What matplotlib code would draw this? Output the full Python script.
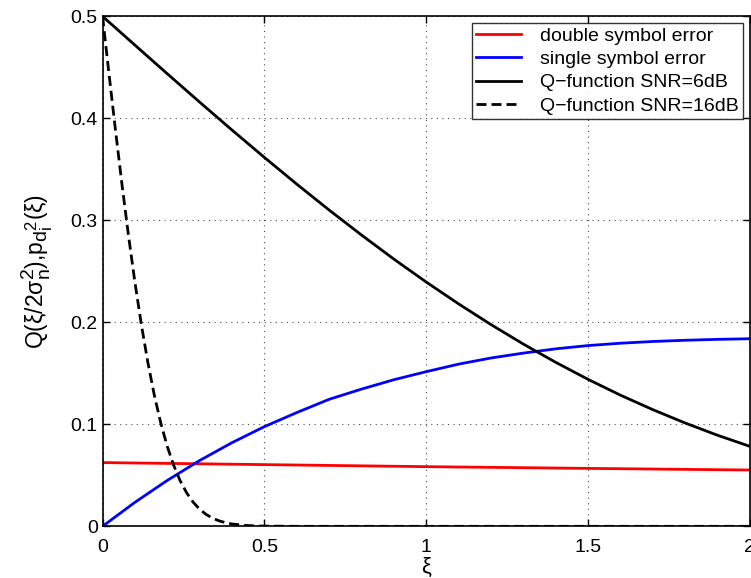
import numpy as np
import matplotlib
matplotlib.use("Agg")
import matplotlib.pyplot as plt
import matplotlib._mathtext as mtext

# Data
xi = [0.0, 0.1, 0.2, 0.3, 0.4, 0.5, 0.6, 0.7, 0.8, 0.9, 1.0,
      1.1, 1.2, 1.3, 1.4, 1.5, 1.6, 1.7, 1.8, 1.9, 2.0]
q_6db = [0.5, 0.4718, 0.4437, 0.4159, 0.3885, 0.3617, 0.3355, 0.3101, 0.2856, 0.2620, 0.2395,
         0.2181, 0.1978, 0.1787, 0.1608, 0.1441, 0.1286, 0.1144, 0.1013, 0.0893, 0.0784]
single_err = [0.0, 0.0235, 0.0450, 0.0645, 0.0820, 0.0977, 0.1115, 0.1245, 0.1345, 0.1437, 0.1516,
              0.1590, 0.1650, 0.1698, 0.1740, 0.1772, 0.1795, 0.1812, 0.1824, 0.1833, 0.1839]

xi_red = [0.0, 0.5, 1.0, 1.5, 2.0]
double_err = [0.0625, 0.0605, 0.0585, 0.0568, 0.0552]

xi_16 = [0.0, 0.02, 0.04, 0.06, 0.08, 0.10, 0.12, 0.14, 0.16, 0.18, 0.20, 0.22, 0.24,
         0.26, 0.28, 0.30, 0.32, 0.34, 0.36, 0.38, 0.40, 0.44, 0.48, 0.6, 1.0, 1.5, 2.0]
q_16db = [0.5, 0.4437, 0.3885, 0.3355, 0.2856, 0.2395, 0.1978, 0.1608, 0.1286, 0.1013, 0.0784,
          0.0597, 0.0446, 0.0328, 0.0237, 0.0168, 0.0117, 0.0080, 0.0054, 0.0036, 0.0023,
          0.0009, 0.0003, 0.0, 0.0, 0.0, 0.0]

labels = ['double symbol error', 'single symbol error',
          'Q\u2212function SNR=6dB', 'Q\u2212function SNR=16dB']

# MATLAB-like tex: sub/superscripts less shrunk than mathtext default
mtext.SHRINK_FACTOR = 0.85

plt.rcParams['font.family'] = ['Liberation Sans', 'DejaVu Sans']
plt.rcParams['mathtext.fontset'] = 'custom'
plt.rcParams['mathtext.rm'] = 'Liberation Sans'
plt.rcParams['mathtext.it'] = 'Liberation Sans'
plt.rcParams['mathtext.default'] = 'regular'

fig = plt.figure(figsize=(7.51, 5.78), dpi=100)
ax = fig.add_axes([0.1365, 0.0894, 0.862, 0.8824])

ax.plot(xi_red, double_err, color='red', lw=2, label=labels[0])
ax.plot(xi, single_err, color='blue', lw=2, label=labels[1])
ax.plot(xi, q_6db, color='black', lw=2, label=labels[2])
ax.plot(xi_16, q_16db, color='black', lw=2, dashes=(3.6, 1.8), label=labels[3])

ax.set_xlim(0, 2)
ax.set_ylim(0, 0.5)
ax.set_xticks([0, 0.5, 1, 1.5, 2])
ax.set_xticklabels(['0', '0.5', '1', '1.5', '2'])
ax.set_yticks([0, 0.1, 0.2, 0.3, 0.4, 0.5])
ax.set_yticklabels(['0', '0.1', '0.2', '0.3', '0.4', '0.5'])
ax.tick_params(direction='in', length=5, width=1, top=True, right=True, labelsize=14)
ax.tick_params(axis='x', pad=9)
ax.tick_params(axis='y', pad=3.5)
ax.grid(True, linestyle=(0, (1, 4)), color='black', linewidth=0.8, alpha=0.7)
for s in ax.spines.values():
    s.set_linewidth(1.2)

ax.set_xlabel(r'$\xi$', fontsize=16, labelpad=0)
ax.set_ylabel(r'Q($\xi$/2$\sigma_n^2$),p$_{d_i^2}$($\xi$)', fontsize=16.5, labelpad=11)

leg = ax.legend(loc='upper right', fontsize=14, frameon=True, fancybox=False,
                edgecolor='black', handlelength=2.3, handletextpad=1.0,
                borderaxespad=0.35, labelspacing=0.3, borderpad=0.2)
leg.get_frame().set_linewidth(1)

fig.savefig('out.png', dpi=100)
